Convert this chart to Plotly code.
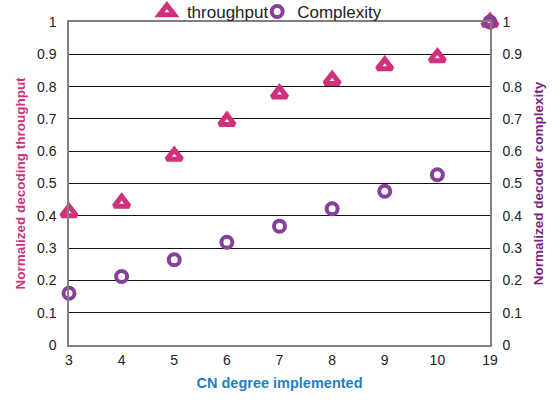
import plotly.graph_objects as go

cn_degree = ["3", "4", "5", "6", "7", "8", "9", "10", "19"]
throughput = [0.41, 0.44, 0.585, 0.693, 0.778, 0.82, 0.865, 0.89, 1.0]
complexity = [0.16, 0.212, 0.264, 0.318, 0.368, 0.422, 0.476, 0.527, 1.0]
y_ticks = [0, 0.1, 0.2, 0.3, 0.4, 0.5, 0.6, 0.7, 0.8, 0.9, 1]

MAGENTA = "#D2307C"
PURPLE = "#85409A"
FONT = "Liberation Sans, Arial, Helvetica, sans-serif"

fig = go.Figure()
fig.add_trace(go.Scatter(
    x=cn_degree, y=complexity, mode="markers", name="Complexity", yaxis="y2",
    legend="legend2",
    marker=dict(symbol="circle-open", size=11, color=PURPLE,
                line=dict(width=4, color=PURPLE)),
    cliponaxis=False,
))
fig.add_trace(go.Scatter(
    x=cn_degree, y=throughput, mode="markers", name="throughput",
    legend="legend",
    marker=dict(symbol="triangle-up-open", size=13, color=MAGENTA,
                line=dict(width=5, color=MAGENTA)),
    cliponaxis=False,
))

leg_common = dict(orientation="h", y=1.031, yanchor="middle", xanchor="left",
                  font=dict(size=17, color="#222222"), itemwidth=30,
                  bgcolor="rgba(0,0,0,0)", borderwidth=0)

fig.update_layout(
    width=558, height=403,
    margin=dict(l=69, r=68, t=22, b=58, autoexpand=False),
    paper_bgcolor="white", plot_bgcolor="white",
    font=dict(family=FONT, size=14, color="#222222"),
    showlegend=True,
    legend=dict(x=0.185, **leg_common),
    legend2=dict(x=0.447, **leg_common),
    xaxis=dict(
        type="category", range=[0, 8], showgrid=False, zeroline=False, automargin=False,
        showline=True, linecolor="#808080", linewidth=1.5, mirror=True,
        ticks="", tickfont=dict(size=14, color="#222222"), ticklabelstandoff=1,
        title=dict(text="<b>CN degree implemented</b>", font=dict(size=14.5, color="#1E7FC3"), standoff=11),
    ),
    yaxis=dict(
        range=[0, 1], tickvals=y_ticks, showgrid=True, gridcolor="#111111", gridwidth=1,
        zeroline=False, showline=True, linecolor="#808080", linewidth=1.5, automargin=False,
        ticks="", tickfont=dict(size=14, color="#222222"), ticklabelstandoff=8,
        title=dict(text="<b>Normalized decoding throughput</b>", font=dict(size=13.5, color=MAGENTA), standoff=8),
    ),
    yaxis2=dict(
        range=[0, 1], tickvals=y_ticks, overlaying="y", side="right", showgrid=False,
        zeroline=False, showline=True, linecolor="#808080", linewidth=1.5, automargin=False,
        ticks="", tickfont=dict(size=14, color="#222222"), ticklabelstandoff=8,
        title=dict(text="<b>Normalized decoder complexity</b>", font=dict(size=13.5, color="#7A1F84"), standoff=12),
    ),
)

fig.write_html("out.html", config={"displayModeBar": False},
               post_script="document.body.style.margin='0';")
